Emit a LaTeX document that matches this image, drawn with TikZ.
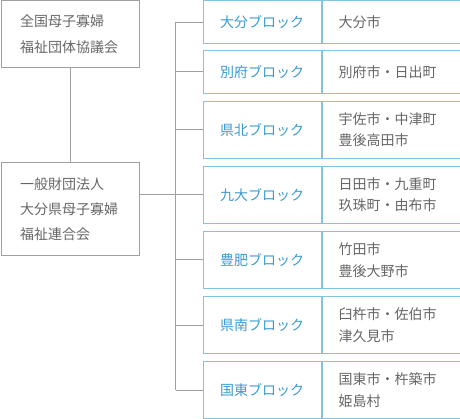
\documentclass[tikz,border=0pt]{standalone}
\usepackage{fontspec}
\setmainfont{Noto Sans CJK JP}
\usepackage{tikz}
\usetikzlibrary{positioning}
\usetikzlibrary{calc}
\definecolor{linegray}{HTML}{A0A0A0}
\definecolor{textgray}{HTML}{666666}
\definecolor{cellblue}{HTML}{84C2E0}
\definecolor{nameblue}{HTML}{3A9AD0}

\begin{document}
\begin{tikzpicture}[x=1pt, y=-1pt,
  link/.style={draw=linegray, line width=1pt},
  orgbox/.style={draw=linegray, line width=1pt, text=textgray, minimum width=138pt, text width=100pt, inner xsep=19pt, inner ysep=0pt, align=left, font={\fontsize{14}{26}\selectfont}},
  blockcell/.style={draw=cellblue, line width=1pt, text=nameblue, minimum width=118pt, inner sep=0pt, font={\fontsize{14}{20}\selectfont}},
  citycell/.style={draw=cellblue, line width=1pt, text=textgray, text width=105pt, inner xsep=16.5pt, inner ysep=0pt, align=left, font={\fontsize{14}{21.7}\selectfont}},
  single/.style={minimum height=42.7pt},
  double/.style={minimum height=57pt}]
\useasboundingbox (0, 0) rectangle (460, 419);

\node[orgbox, minimum height=67pt] (zenkoku) at (70, 34.5) {全国母子寡婦\\福祉団体協議会};
\node[orgbox, minimum height=93pt, font={\fontsize{14}{25}\selectfont}] (rengo) at (70, 209.5) {一般財団法人\\大分県母子寡婦\\福祉連合会};
\draw[link] (zenkoku.south) -- (rengo.north);

\node[blockcell, single] (b1) at (262, 22.3) {大分ブロック};
\node[citycell, single, right=0pt of b1] (c1) {大分市};

\node[blockcell, single] (b2) at (262, 72) {別府ブロック};
\node[citycell, single, right=0pt of b2] (c2) {別府市・日出町};

\node[blockcell, double] (b3) at (262, 129.8) {県北ブロック};
\node[citycell, double, right=0pt of b3] (c3) {宇佐市・中津町\\豊後高田市};

\node[blockcell, double] (b4) at (262, 194.8) {九大ブロック};
\node[citycell, double, right=0pt of b4] (c4) {日田市・九重町\\玖珠町・由布市};

\node[blockcell, double] (b5) at (262, 260) {豊肥ブロック};
\node[citycell, double, right=0pt of b5] (c5) {竹田市\\豊後大野市};

\node[blockcell, double] (b6) at (262, 325) {県南ブロック};
\node[citycell, double, right=0pt of b6] (c6) {臼杵市・佐伯市\\津久見市};

\node[blockcell, double] (b7) at (262, 390) {国東ブロック};
\node[citycell, double, right=0pt of b7] (c7) {国東市・杵築市\\姫島村};

\coordinate (trunk) at (175.7, 0);
\draw[link] (b1.west -| trunk) -- (b7.west -| trunk);
\draw[link] (b1.west) -- (b1.west -| trunk);
\draw[link] (b2.west) -- (b2.west -| trunk);
\draw[link] (b3.west) -- (b3.west -| trunk);
\draw[link] (b4.west) -- (b4.west -| rengo.east);
\draw[link] (b5.west) -- (b5.west -| trunk);
\draw[link] (b6.west) -- (b6.west -| trunk);
\draw[link] (b7.west) -- (b7.west -| trunk);
\end{tikzpicture}
\end{document}
